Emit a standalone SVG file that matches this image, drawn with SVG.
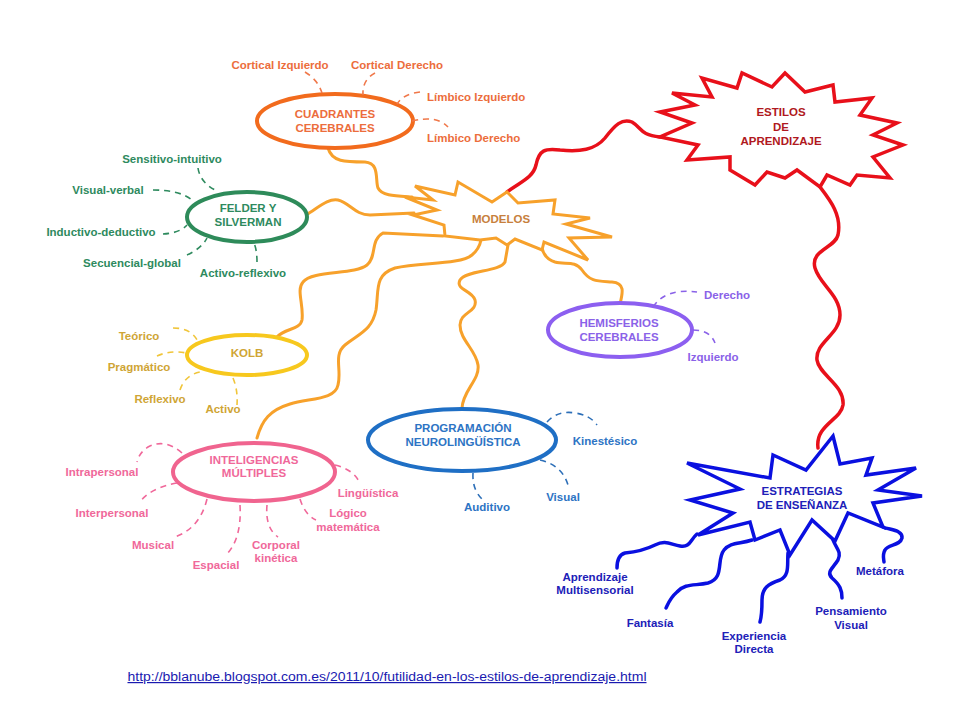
<svg xmlns="http://www.w3.org/2000/svg" width="960" height="720" viewBox="0 0 960 720">
<style>
text{font-family:"Liberation Sans",Arial,sans-serif;font-weight:bold;font-size:11.5px;text-anchor:middle}
.lbl{text-anchor:start}
.ell{fill:#fff;stroke-width:4}
.dash{fill:none;stroke-width:1.6;stroke-dasharray:6 5}
.or{fill:none;stroke:#f7a12b;stroke-width:3;stroke-linecap:round}
.red{fill:none;stroke:#e8101a;stroke-width:3.5;stroke-linecap:round}
.blu{fill:none;stroke:#0a10e0;stroke-width:3.5;stroke-linecap:round}
.url{font-weight:normal;font-size:12px;fill:#1a1ab0;text-decoration:underline}
.c1{fill:#ec6d3c}.c2{fill:#2e8a5e}.c3{fill:#cfa535}.c4{fill:#f0689a}.c5{fill:#2d74c4}.c6{fill:#8a62e8}.c7{fill:#2020b8}
</style>
<rect width="960" height="720" fill="#fff"/>
<g id="connectors">
<path class="or" d="M328,148 C332,162 345,162 365,162 C380,163 375,180 378,188 C382,196 395,196 412,197"/>
<path class="or" d="M306,215 C318,208 328,198 338,200 C350,203 355,215 370,215 L414,213"/>
<path class="or" d="M277,337 C285,328 300,330 302,320 C304,305 296,290 303,282 C312,270 355,275 367,265 C377,257 370,240 383,233 L443,236"/>
<path class="or" d="M257,438 C262,420 270,410 290,404 C310,398 335,400 338,385 C342,370 333,355 345,345 C360,333 372,330 376,310 C379,290 374,275 395,268 C420,262 460,265 472,255 C478,250 480,245 481,240"/>
<path class="or" d="M462,408 C463,390 480,380 478,365 C476,350 460,340 460,325 C460,312 478,312 475,300 C472,290 455,290 460,280 C466,270 500,272 505,262 L508,245"/>
<path class="or" d="M620,304 C623,292 625,283 612,282 C598,281 590,282 582,270 C575,260 565,265 555,262 C546,259 543,253 542,248"/>
<path class="red" d="M507,192 C520,182 533,178 536,165 C539,150 545,148 560,150 C580,152 595,150 605,138 C615,125 622,118 632,122 C642,128 640,135 660,137"/>
<path class="red" d="M820,187 C830,200 842,215 838,235 C835,248 810,250 815,268 C820,285 840,295 840,315 C840,335 815,342 817,360 C819,375 845,385 843,405 C841,420 815,425 818,448"/>
<path class="blu" d="M697,534 C690,540 690,548 680,546 C670,544 665,540 655,545 C645,550 635,552 625,553 C618,555 617,562 617,568"/>
<path class="blu" d="M752,540 C740,544 730,542 724,550 C716,560 725,578 708,583 C695,586 685,583 677,592 C670,598 668,604 666,608"/>
<path class="blu" d="M788,553 C787,565 790,575 780,580 C768,584 762,588 762,600 C762,610 762,615 760,622"/>
<path class="blu" d="M833,540 C836,548 842,552 838,560 C833,568 826,572 832,578 C840,585 842,590 842,598"/>
<path class="blu" d="M883,527 C890,530 903,530 902,538 C900,546 888,544 885,550 C882,555 884,560 884,562"/>
</g>
<g id="cuadrantes">
<ellipse class="ell" cx="335" cy="121" rx="78" ry="27" stroke="#f26b1d"/>
<text class="c1" x="335" y="118">CUADRANTES</text>
<text class="c1" x="335" y="132">CEREBRALES</text>
<g stroke="#f0784a">
<path class="dash" d="M305,72 Q318,80 322,93"/>
<path class="dash" d="M375,73 Q362,80 363,95"/>
<path class="dash" d="M420,92 Q403,94 397,104"/>
<path class="dash" d="M412,121 Q437,115 448,127"/>
</g>
<text class="c1" x="280" y="69">Cortical Izquierdo</text>
<text class="c1" x="397" y="69">Cortical Derecho</text>
<text class="c1 lbl" x="427" y="101">Límbico Izquierdo</text>
<text class="c1 lbl" x="427" y="142">Límbico Derecho</text>
</g>
<g id="felder">
<ellipse class="ell" cx="247" cy="217" rx="60" ry="25" stroke="#2e8b5a"/>
<text class="c2" x="248" y="212">FELDER Y</text>
<text class="c2" x="248" y="226">SILVERMAN</text>
<g stroke="#2e8a5e">
<path class="dash" d="M198,168 Q200,182 215,190"/>
<path class="dash" d="M153,190 Q180,190 192,200"/>
<path class="dash" d="M163,234 Q180,233 187,225"/>
<path class="dash" d="M187,255 Q202,248 207,238"/>
<path class="dash" d="M257,262 Q257,250 254,243"/>
</g>
<text class="c2" x="172" y="163">Sensitivo-intuitivo</text>
<text class="c2" x="108" y="194">Visual-verbal</text>
<text class="c2" x="101" y="236">Inductivo-deductivo</text>
<text class="c2" x="132" y="267">Secuencial-global</text>
<text class="c2" x="243" y="277">Activo-reflexivo</text>
</g>
<g id="kolb">
<ellipse class="ell" cx="247" cy="355" rx="60" ry="20" stroke="#f7c81e"/>
<text class="c3" x="247" y="357">KOLB</text>
<g stroke="#f0c53a">
<path class="dash" d="M173,328 Q192,328 198,342"/>
<path class="dash" d="M157,356 Q170,350 187,353"/>
<path class="dash" d="M180,390 Q185,375 200,372"/>
<path class="dash" d="M233,378 Q238,390 237,405"/>
</g>
<text class="c3" x="139" y="340">Teórico</text>
<text class="c3" x="139" y="371">Pragmático</text>
<text class="c3" x="160" y="403">Reflexivo</text>
<text class="c3" x="223" y="413">Activo</text>
</g>
<g id="inteligencias">
<ellipse class="ell" cx="254" cy="472" rx="81" ry="29" stroke="#f0648f"/>
<text class="c4" x="254" y="464">INTELIGENCIAS</text>
<text class="c4" x="254" y="477">MÚLTIPLES</text>
<g stroke="#f0689a">
<path class="dash" d="M182,453 Q165,438 148,447 Q139,453 137,462"/>
<path class="dash" d="M177,483 Q150,488 140,502"/>
<path class="dash" d="M207,499 Q200,528 175,537"/>
<path class="dash" d="M240,505 Q242,540 225,556"/>
<path class="dash" d="M267,505 Q265,528 278,537"/>
<path class="dash" d="M300,499 Q305,515 316,520"/>
<path class="dash" d="M335,465 Q355,470 360,484"/>
</g>
<text class="c4" x="102" y="476">Intrapersonal</text>
<text class="c4" x="112" y="517">Interpersonal</text>
<text class="c4" x="153" y="549">Musical</text>
<text class="c4" x="216" y="569">Espacial</text>
<text class="c4" x="276" y="549">Corporal</text>
<text class="c4" x="276" y="562">kinética</text>
<text class="c4" x="348" y="517">Lógico</text>
<text class="c4" x="348" y="531">matemática</text>
<text class="c4" x="368" y="497">Lingüística</text>
</g>
<g id="pnl">
<ellipse class="ell" cx="462" cy="440" rx="94" ry="31" stroke="#1f6fc5"/>
<text class="c5" x="463" y="432">PROGRAMACIÓN</text>
<text class="c5" x="463" y="446">NEUROLINGÜÍSTICA</text>
<g stroke="#2d6fb8">
<path class="dash" d="M547,422 Q558,410 575,413 Q590,415 597,425"/>
<path class="dash" d="M540,460 Q562,465 568,485"/>
<path class="dash" d="M473,473 Q472,490 483,500"/>
</g>
<text class="c5" x="605" y="445">Kinestésico</text>
<text class="c5" x="563" y="501">Visual</text>
<text class="c5" x="487" y="511">Auditivo</text>
</g>
<g id="hemisferios">
<ellipse class="ell" cx="620" cy="330" rx="72" ry="27" stroke="#8c5ff0"/>
<text class="c6" x="619" y="327">HEMISFERIOS</text>
<text class="c6" x="619" y="341">CEREBRALES</text>
<g stroke="#8a62e8">
<path class="dash" d="M653,307 Q665,288 697,292"/>
<path class="dash" d="M693,330 Q710,330 715,343"/>
</g>
<text class="c6" x="727" y="299">Derecho</text>
<text class="c6" x="713" y="361">Izquierdo</text>
</g>
<g id="modelos">
<polygon points="507,192 518,203 555,200 553,214 590,218 566,224 612,237 569,238 588,260 544,242 542,250 515,239 507,245 496,238 480,240 445,236 444,225 413,215 437,210 405,197 433,200 415,186 455,195 458,182 492,202" fill="#fff" stroke="#f7a12b" stroke-width="3"/>
<text x="501" y="223" fill="#c7803c">MODELOS</text>
</g>
<g id="estilos">
<polygon points="672,93 712,97 702,78 737,88 742,73 772,87 785,73 805,92 833,85 835,102 872,98 860,115 897,123 873,135 903,145 873,157 890,178 857,175 850,185 827,175 820,187 797,170 785,178 767,172 755,185 730,170 730,157 687,160 698,145 660,137 692,123 660,112 695,105" fill="#fff" stroke="#e8101a" stroke-width="3.5"/>
<text x="781" y="116" fill="#b01820" font-size="12">ESTILOS</text>
<text x="781" y="131" fill="#b01820" font-size="12">DE</text>
<text x="781" y="145" fill="#b01820" font-size="12">APRENDIZAJE</text>
</g>
<g id="estrategias">
<polygon points="833,436 840,464 872,458 866,475 916,468 878,490 922,496 873,503 883,527 848,513 835,541 812,520 790,555 780,530 755,540 750,522 698,535 733,513 690,500 740,489 687,463 770,478 773,455 806,470" fill="#fff" stroke="#0a10e0" stroke-width="3.5"/>
<text class="c7" x="802" y="495">ESTRATEGIAS</text>
<text class="c7" x="802" y="509">DE ENSEÑANZA</text>
</g>
<g id="estrategias-labels">
<text class="c7" x="595" y="581">Aprendizaje</text>
<text class="c7" x="595" y="594">Multisensorial</text>
<text class="c7" x="650" y="627">Fantasía</text>
<text class="c7" x="754" y="640">Experiencia</text>
<text class="c7" x="754" y="653">Directa</text>
<text class="c7" x="851" y="615">Pensamiento</text>
<text class="c7" x="851" y="629">Visual</text>
<text class="c7" x="880" y="575">Metáfora</text>
</g>
<text class="url" x="387" y="681" textLength="519" lengthAdjust="spacingAndGlyphs">http://bblanube.blogspot.com.es/2011/10/futilidad-en-los-estilos-de-aprendizaje.html</text>
</svg>
